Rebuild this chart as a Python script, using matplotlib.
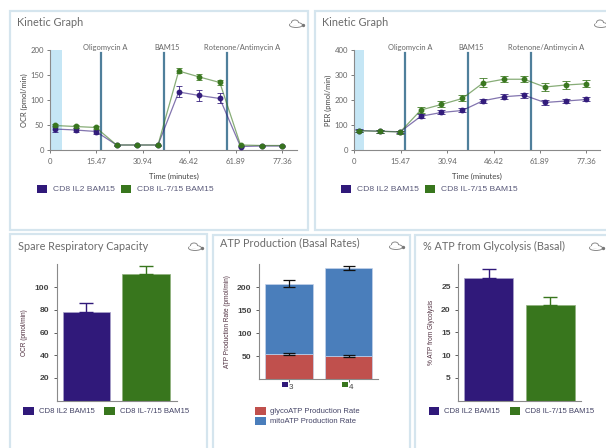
import matplotlib
matplotlib.use("Agg")
import matplotlib.pyplot as plt
from matplotlib.patches import Patch, Rectangle, Ellipse

W, H = 606, 448
PURPLE = "#30197a"
GREEN = "#38761d"
RED = "#c0504d"
BLUE = "#4a7ebb"
INJ = "#4f7f9b"
BAND = "#c5e6f5"
FRAME = "#d5e5ee"
GREY = "#666666"
AX = "#8a8a8a"

series_names = ["CD8 IL2 BAM15", "CD8 IL-7/15 BAM15"]
times = [1.5, 8.5, 15.3, 22.2, 29.0, 36.0, 42.9, 49.8, 56.6, 63.5, 70.5, 77.3]
time_ticks = [0, 15.47, 30.94, 46.42, 61.89, 77.36]
injections = ["Oligomycin A", "BAM15", "Rotenone/Antimycin A"]
inj_times = [17.0, 38.0, 59.0]
inj_label_times = [18.5, 39.0, 64.0]

ocr_il2 = [42, 40, 37, 10, 10, 10, 116, 109, 103, 7, 8, 8]
ocr_il2_err = [5, 4, 4, 1, 1, 1, 11, 11, 10, 1, 1, 1]
ocr_il7 = [49, 47, 45, 10, 10, 10, 158, 146, 135, 10, 9, 9]
ocr_il7_err = [3, 3, 3, 1, 1, 1, 5, 6, 5, 1, 1, 1]

per_il2 = [78, 75, 73, 135, 150, 158, 197, 213, 219, 190, 196, 202]
per_il2_err = [5, 5, 5, 8, 8, 8, 8, 10, 10, 10, 8, 8]
per_il7 = [77, 75, 72, 160, 182, 206, 268, 283, 283, 252, 260, 265]
per_il7_err = [5, 6, 6, 12, 12, 12, 18, 13, 12, 17, 16, 15]

src_vals = [78, 112]
src_err = [8, 7]
glyco_vals = [55, 50]
glyco_err = [2, 3]
total_vals = [208, 242]
total_err = [7, 4]
mito_vals = [t - g for t, g in zip(total_vals, glyco_vals)]
pct_vals = [27, 21]
pct_err = [2, 1.8]

plt.rcParams["font.family"] = ["Lato", "DejaVu Sans"]
fig = plt.figure(figsize=(W / 100, H / 100), dpi=100, facecolor="white")


def make_ax(l, r, top, bottom):
    a = fig.add_axes([l / W, 1 - bottom / H, (r - l) / W, (bottom - top) / H])
    a.patch.set_alpha(0)
    for s in ("top", "right"):
        a.spines[s].set_visible(False)
    for s in ("left", "bottom"):
        a.spines[s].set_color(AX)
        a.spines[s].set_linewidth(0.8)
    return a


bg = fig.add_axes([0, 0, 1, 1], zorder=-1)
bg.set_xlim(0, W)
bg.set_ylim(H, 0)
bg.axis("off")
for x0, y0, x1, y1 in [(10, 11, 308, 230), (315, 11, 612, 230), (10, 234, 207, 460),
                       (213, 235, 410, 460), (415, 235, 620, 460)]:
    bg.add_patch(Rectangle((x0, y0), x1 - x0, y1 - y0, fc="white", ec=FRAME, lw=1.6))


def cloud(cx, cy):
    for dx, dy, w, h in [(0, 0, 13, 5), (-1, -2.5, 7, 5)]:
        bg.add_patch(Ellipse((cx + dx, cy + dy), w, h, fc="white", ec="#8a8a8a", lw=0.7))
    bg.add_patch(Ellipse((cx - 1, cy - 0.8), 10, 3.2, fc="white", ec="none"))
    bg.plot([cx + 6.5], [cy], marker="o", ms=1.4, color="#777777")


titles = [("Kinetic Graph", 17, 23, 296, 25), ("Kinetic Graph", 322, 23, 601, 25),
          ("Spare Respiratory Capacity", 18, 247, 195, 248),
          ("ATP Production (Basal Rates)", 220, 243, 396, 247),
          ("% ATP from Glycolysis (Basal)", 423, 246, 596, 248)]
for t, x, y, cx, cy in titles:
    bg.text(x, y, t, fontsize=7.8, color="#6b6b6b", va="center", ha="left")
    cloud(cx, cy)


def kinetic(l, r, ylim, yticks, ylabel, band, a_vals, a_err, b_vals, b_err, leg_x, cap):
    a = make_ax(l, r, 50, 150)
    a.set_xlim(0, (r - l) / 3.0)
    a.set_ylim(*ylim)
    a.axvspan(0, band, color=BAND, lw=0, zorder=1)
    for t, lt, name in zip(inj_times, inj_label_times, injections):
        a.plot([t, t], [0, ylim[1] * 0.97], color=INJ, lw=1.6, zorder=2)
        a.text(lt, ylim[1] * 1.0, name, fontsize=5.4, color=GREY, ha="center", va="baseline")
    for vals, err, c in [(a_vals, a_err, PURPLE), (b_vals, b_err, GREEN)]:
        a.plot(times, vals, color=c, lw=0.9, alpha=0.6, zorder=3)
        a.errorbar(times, vals, yerr=err, fmt="o", ms=3.2, color=c, ecolor=c, elinewidth=0.6,
                   capsize=cap, capthick=0.6, alpha=0.95, zorder=4)
    a.set_xticks(time_ticks)
    a.set_xticklabels(["0", "15.47", "30.94", "46.42", "61.89", "77.36"])
    a.set_yticks(yticks)
    a.tick_params(labelsize=5.6, colors=GREY, length=2.5, width=0.6, pad=2)
    a.tick_params(axis="x", pad=3.5)
    a.set_xlabel("Time (minutes)", fontsize=5.6, color="#444444", labelpad=5.5)
    a.set_ylabel(ylabel, fontsize=5.4, color="#444444", labelpad=1.5)
    handles = [Patch(fc=PURPLE, label=series_names[0]), Patch(fc=GREEN, label=series_names[1])]
    fig.legend(handles=handles, loc="center left", bbox_to_anchor=(leg_x / W, 1 - 189 / H), ncol=2,
               frameon=False, prop={"family": "Liberation Sans", "size": 6.1}, labelcolor="#5a5a7a",
               handlelength=1.2, handleheight=1.1, handletextpad=0.7, columnspacing=0.7,
               borderpad=0, borderaxespad=0)


kinetic(50, 297, (0, 200), [0, 50, 100, 150, 200], "OCR (pmol/min)", 4.1,
        ocr_il2, ocr_il2_err, ocr_il7, ocr_il7_err, 37, 2.0)
kinetic(354.3, 600, (0, 400), [0, 100, 200, 300, 400], "PER (pmol/min)", 3.1,
        per_il2, per_il2_err, per_il7, per_il7_err, 341, 3.0)


def style_y(a, pad):
    a.tick_params(axis="y", labelsize=6.1, colors="#444444", length=2.4, width=0.6, pad=3)
    for t in a.get_yticklabels():
        t.set_family("Liberation Sans")
        t.set_fontweight("bold")


def two_bar(l, r, ymax, yticks, ylabel, vals, errs, lims, leg_x, label_pad):
    a = make_ax(l, r, 264, 400.7)
    a.set_xlim(l, r)
    a.set_ylim(0, ymax)
    for (x0, x1), v, e, c in zip(lims, vals, errs, (PURPLE, GREEN)):
        xc = (x0 + x1) / 2
        a.bar(xc, v, width=x1 - x0, color=c, edgecolor="#a9a3c9" if c == PURPLE else "#8fb07d", lw=0.5)
        a.errorbar(xc, v, yerr=[[0], [e]], color=c, elinewidth=1.0, capsize=4.8, capthick=1.0)
    a.set_xticks([])
    a.set_yticks(yticks)
    style_y(a, 3)
    a.set_ylabel(ylabel, fontsize=4.7, color="#503040", family="Liberation Sans", labelpad=label_pad)
    handles = [Patch(fc=PURPLE, label=series_names[0]), Patch(fc=GREEN, label=series_names[1])]
    fig.legend(handles=handles, loc="center left", bbox_to_anchor=(leg_x / W, 1 - 411 / H), ncol=2,
               frameon=False, prop={"family": "Liberation Sans", "size": 5.6}, labelcolor="#444466",
               handlelength=1.4, handleheight=1.25, handletextpad=0.6, columnspacing=1.25,
               borderpad=0, borderaxespad=0)


two_bar(56.7, 176.7, 120.4, [20, 40, 60, 80, 100], "OCR (pmol/min)", src_vals, src_err,
        [(62.7, 110), (122.3, 170)], 23, 4.5)
two_bar(458.3, 581, 30, [5, 10, 15, 20, 25], "% ATP from Glycolysis", pct_vals, pct_err,
        [(463.7, 513.3), (525.7, 575)], 428.5, 4.5)

# ATP production stacked bars
a = make_ax(259, 378, 264.3, 379)
a.set_xlim(259, 378)
a.set_ylim(0, 250)
xcs = [288.8, 348.6]
bw = 47.5
a.bar(xcs, glyco_vals, width=bw, color=RED, edgecolor="#c3d2ea", lw=0.5)
a.bar(xcs, mito_vals, bottom=glyco_vals, width=bw, color=BLUE, edgecolor="#c3d2ea", lw=0.5)
a.errorbar(xcs, glyco_vals, yerr=glyco_err, fmt="none", ecolor="#111111", elinewidth=0.9, capsize=4.5, capthick=0.9)
a.errorbar(xcs, total_vals, yerr=total_err, fmt="none", ecolor="#111111", elinewidth=0.9, capsize=4.5, capthick=0.9)
a.set_xticks(xcs)
a.set_xticklabels(["3", "4"])
a.set_yticks([50, 100, 150, 200])
style_y(a, 3)
a.tick_params(axis="x", labelsize=5.8, colors="#444444", length=2.0, width=0.6, pad=1.5)
for t in a.get_xticklabels():
    t.set_family("Liberation Sans")
    t.set_ha("left")
a.set_ylabel("ATP Production Rate (pmol/min)", fontsize=4.7, color="#503040", family="Liberation Sans", labelpad=4.5)
bg.add_patch(Rectangle((282.3, 382), 6, 5.5, fc=PURPLE, ec="none"))
bg.add_patch(Rectangle((342.1, 382), 6, 5.5, fc=GREEN, ec="none"))
fig.legend(handles=[Patch(fc=RED, label="glycoATP Production Rate"), Patch(fc=BLUE, label="mitoATP Production Rate")],
           loc="upper left", bbox_to_anchor=(255 / W, 1 - 406.5 / H), ncol=1, frameon=False,
           prop={"family": "Liberation Sans", "size": 5.5}, labelcolor="#444466", handlelength=1.45,
           handleheight=1.25, handletextpad=0.5, labelspacing=0.2, borderpad=0, borderaxespad=0)

fig.savefig("out.png", dpi=100, facecolor="white")
